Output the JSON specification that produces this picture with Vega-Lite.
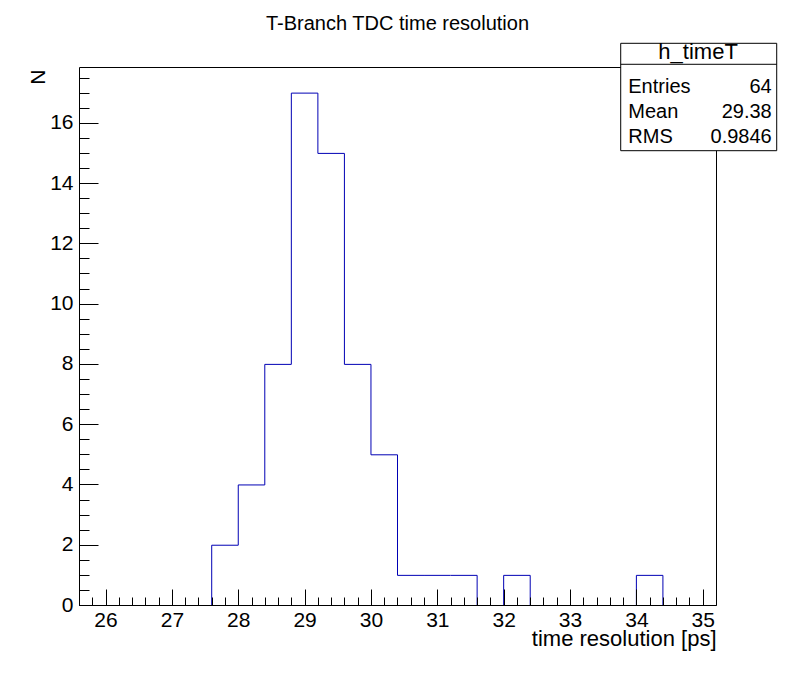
{
  "$schema": "https://vega.github.io/schema/vega-lite/v6.json",
  "width": 637,
  "height": 538,
  "autosize": {"type": "none"},
  "padding": {"left": 79, "top": 67, "right": 80, "bottom": 68},
  "background": "white",
  "title": {"text": "T-Branch TDC time resolution", "font": "Liberation Sans", "fontSize": 20, "fontWeight": "normal", "color": "black", "anchor": "middle", "offset": -9, "baseline": "alphabetic"},
  "config": {
    "view": {"stroke": null},
    "font": "Liberation Sans",
    "axis": {"domainColor": "black", "tickColor": "black", "labelColor": "black", "titleColor": "black", "labelFont": "Liberation Sans", "titleFont": "Liberation Sans", "labelFontSize": 21, "titleFontSize": 21, "titleFontWeight": "normal", "grid": false, "domainWidth": 1, "tickWidth": 1, "labelOverlap": false, "labelFlush": false}
  },
  "data": {"values": [
    {"edge": 25.6, "n": 0}, {"edge": 26.0, "n": 0}, {"edge": 26.4, "n": 0}, {"edge": 26.8, "n": 0},
    {"edge": 27.2, "n": 0}, {"edge": 27.6, "n": 2}, {"edge": 28.0, "n": 4}, {"edge": 28.4, "n": 8},
    {"edge": 28.8, "n": 17}, {"edge": 29.2, "n": 15}, {"edge": 29.6, "n": 8}, {"edge": 30.0, "n": 5},
    {"edge": 30.4, "n": 1}, {"edge": 30.8, "n": 1}, {"edge": 31.2, "n": 1}, {"edge": 31.6, "n": 0},
    {"edge": 32.0, "n": 1}, {"edge": 32.4, "n": 0}, {"edge": 32.8, "n": 0}, {"edge": 33.2, "n": 0},
    {"edge": 33.6, "n": 0}, {"edge": 34.0, "n": 1}, {"edge": 34.4, "n": 0}, {"edge": 34.8, "n": 0}
  ]},
  "resolve": {"axis": {"x": "independent", "y": "independent"}},
  "layer": [
    {
      "mark": {"type": "line", "interpolate": "step-after", "color": "#0000b4", "strokeWidth": 1, "yOffset": 0.5},
      "encoding": {
        "x": {"field": "edge", "type": "quantitative", "scale": {"domain": [25.6, 35.2], "nice": false, "zero": false},
          "axis": {"orient": "bottom", "values": [26, 27, 28, 29, 30, 31, 32, 33, 34, 35], "format": "d", "tickSize": -16, "labelPadding": 20, "zindex": 1,
            "title": "time resolution [ps]", "titleFontSize": 22, "titleAnchor": "end", "titleAlign": "right", "titleX": 637, "titleY": 40, "titleBaseline": "alphabetic"}},
        "y": {"field": "n", "type": "quantitative", "scale": {"domain": [0, 17.85], "nice": false, "zero": true},
          "axis": {"orient": "left", "values": [0, 2, 4, 6, 8, 10, 12, 14, 16], "format": "d", "tickSize": -19, "labelPadding": 25, "zindex": 1,
            "title": "N", "titleAngle": -90, "titleX": -35, "titleY": 2, "titleAlign": "right", "titleBaseline": "alphabetic"}}
      }
    },
    {
      "data": {"values": [{}]},
      "mark": {"type": "rect", "fill": "white", "stroke": "black", "strokeWidth": 1},
      "encoding": {
        "x": {"datum": 33.764, "type": "quantitative", "scale": {"domain": [25.6, 35.2], "nice": false, "zero": false},
          "axis": {"orient": "bottom", "values": [25.8, 26.2, 26.4, 26.6, 26.8, 27.2, 27.4, 27.6, 27.8, 28.2, 28.4, 28.6, 28.8, 29.2, 29.4, 29.6, 29.8, 30.2, 30.4, 30.6, 30.8, 31.2, 31.4, 31.6, 31.8, 32.2, 32.4, 32.6, 32.8, 33.2, 33.4, 33.6, 33.8, 34.2, 34.4, 34.6, 34.8, 35.2],
            "tickSize": -8, "labels": false, "domain": false, "title": null, "zindex": 1}},
        "x2": {"datum": 36.115},
        "y": {"datum": 18.636, "type": "quantitative", "scale": {"domain": [0, 17.85], "nice": false, "zero": true},
          "axis": {"orient": "left", "values": [0.5, 1, 1.5, 2.5, 3, 3.5, 4.5, 5, 5.5, 6.5, 7, 7.5, 8.5, 9, 9.5, 10.5, 11, 11.5, 12.5, 13, 13.5, 14.5, 15, 15.5, 16.5, 17, 17.5],
            "tickSize": -10, "labels": false, "domain": false, "title": null, "zindex": 1}},
        "y2": {"datum": 15.073}
      }
    },
    {
      "data": {"values": [{}]},
      "mark": {"type": "rule", "color": "black", "strokeWidth": 1},
      "encoding": {
        "x": {"datum": 33.764, "type": "quantitative", "scale": {"domain": [25.6, 35.2], "nice": false, "zero": false},
          "axis": {"orient": "top", "ticks": false, "labels": false, "domain": true, "title": null, "zindex": 0, "minExtent": 0, "maxExtent": 0}},
        "x2": {"datum": 36.115},
        "y": {"datum": 17.94, "type": "quantitative", "scale": {"domain": [0, 17.85], "nice": false, "zero": true},
          "axis": {"orient": "right", "ticks": false, "labels": false, "domain": true, "title": null, "zindex": 0, "minExtent": 0, "maxExtent": 0}}
      }
    },
    {
      "data": {"values": [{}]},
      "mark": {"type": "text", "font": "Liberation Sans", "fontSize": 22, "align": "center", "baseline": "alphabetic", "color": "black"},
      "encoding": {
        "x": {"datum": 34.93, "type": "quantitative", "axis": null},
        "y": {"datum": 18.115, "type": "quantitative", "axis": null},
        "text": {"value": "h_timeT"}
      }
    },
    {
      "data": {"values": [{}]},
      "mark": {"type": "text", "font": "Liberation Sans", "fontSize": 20, "align": "left", "baseline": "alphabetic", "color": "black"},
      "encoding": {
        "x": {"datum": 33.878, "type": "quantitative", "axis": null},
        "y": {"datum": 16.977, "type": "quantitative", "axis": null},
        "text": {"value": "Entries"}
      }
    },
    {
      "data": {"values": [{}]},
      "mark": {"type": "text", "font": "Liberation Sans", "fontSize": 20, "align": "left", "baseline": "alphabetic", "color": "black"},
      "encoding": {
        "x": {"datum": 33.878, "type": "quantitative", "axis": null},
        "y": {"datum": 16.148, "type": "quantitative", "axis": null},
        "text": {"value": "Mean"}
      }
    },
    {
      "data": {"values": [{}]},
      "mark": {"type": "text", "font": "Liberation Sans", "fontSize": 20, "align": "left", "baseline": "alphabetic", "color": "black"},
      "encoding": {
        "x": {"datum": 33.878, "type": "quantitative", "axis": null},
        "y": {"datum": 15.328, "type": "quantitative", "axis": null},
        "text": {"value": "RMS"}
      }
    },
    {
      "data": {"values": [{}]},
      "mark": {"type": "text", "font": "Liberation Sans", "fontSize": 20, "align": "right", "baseline": "alphabetic", "color": "black"},
      "encoding": {
        "x": {"datum": 36.04, "type": "quantitative", "axis": null},
        "y": {"datum": 16.977, "type": "quantitative", "axis": null},
        "text": {"value": "64"}
      }
    },
    {
      "data": {"values": [{}]},
      "mark": {"type": "text", "font": "Liberation Sans", "fontSize": 20, "align": "right", "baseline": "alphabetic", "color": "black"},
      "encoding": {
        "x": {"datum": 36.04, "type": "quantitative", "axis": null},
        "y": {"datum": 16.148, "type": "quantitative", "axis": null},
        "text": {"value": "29.38"}
      }
    },
    {
      "data": {"values": [{}]},
      "mark": {"type": "text", "font": "Liberation Sans", "fontSize": 20, "align": "right", "baseline": "alphabetic", "color": "black"},
      "encoding": {
        "x": {"datum": 36.04, "type": "quantitative", "axis": null},
        "y": {"datum": 15.328, "type": "quantitative", "axis": null},
        "text": {"value": "0.9846"}
      }
    }
  ]
}
